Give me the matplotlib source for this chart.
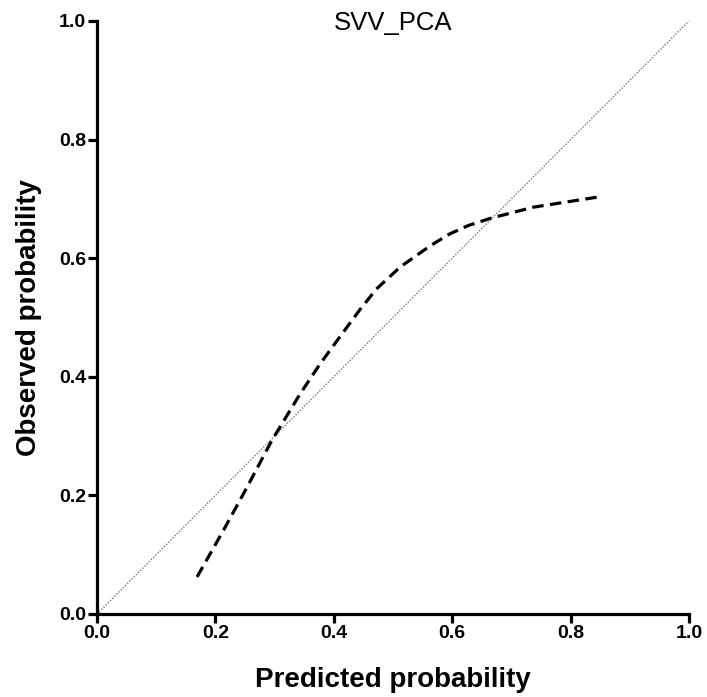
import matplotlib
matplotlib.use("Agg")
import matplotlib.pyplot as plt

plt.rcParams["font.family"] = ["Liberation Sans", "DejaVu Sans"]

# Calibration curve
pred = [0.169, 0.213, 0.253, 0.295, 0.343, 0.377, 0.410, 0.444, 0.472,
        0.512, 0.563, 0.596, 0.627, 0.664, 0.737, 0.852]
obs = [0.0625, 0.140, 0.213, 0.292, 0.371, 0.422, 0.467, 0.513, 0.548,
       0.585, 0.621, 0.641, 0.655, 0.667, 0.686, 0.704]

ref_line = [0.0, 1.0]
ticks = [0.0, 0.2, 0.4, 0.6, 0.8, 1.0]
tick_labels = ["0.0", "0.2", "0.4", "0.6", "0.8", "1.0"]

fig = plt.figure(figsize=(7.07, 6.97), dpi=100)
ax = fig.add_axes([0.1372, 0.1191, 0.8373, 0.8508])

# ideal calibration diagonal
ax.plot(ref_line, ref_line, color="#777777", lw=1.0, ls=(0, (1, 1.2)))
ax.plot(pred, obs, color="black", lw=2.3, ls=(0, (3.6, 2.0)))

ax.set_xlim(0, 1)
ax.set_ylim(0, 1)
ax.set_xticks(ticks)
ax.set_yticks(ticks)
ax.set_xticklabels(tick_labels, fontweight="bold", fontsize=14)
ax.set_yticklabels(tick_labels, fontweight="bold", fontsize=14)

for side in ["top", "right"]:
    ax.spines[side].set_visible(False)
for side in ["left", "bottom"]:
    ax.spines[side].set_linewidth(2.3)
ax.tick_params(direction="out", length=6.5, width=2.3, pad=1.5)

ax.set_xlabel("Predicted probability", fontsize=20, fontweight="bold")
ax.set_ylabel("Observed probability", fontsize=20, fontweight="bold")
ax.xaxis.set_label_coords(0.5, -0.09)
ax.yaxis.set_label_coords(-0.093, 0.5)

ax.text(0.5, 0.997, "SVV_PCA", transform=ax.transAxes, ha="center",
        va="center", fontsize=18.5)

fig.savefig("out.png", dpi=100)
